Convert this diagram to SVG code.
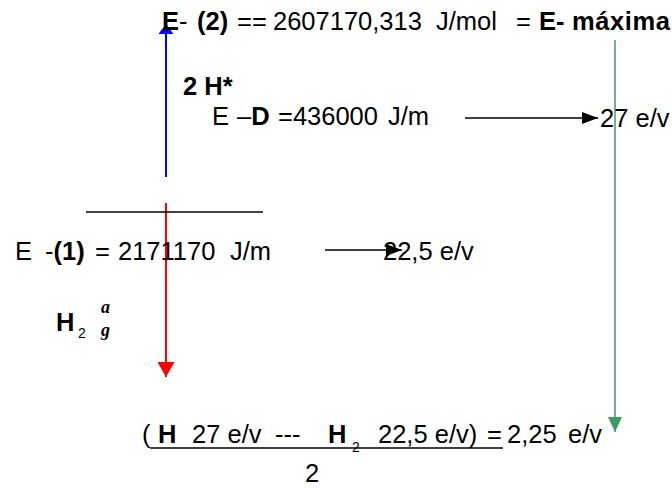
<svg xmlns="http://www.w3.org/2000/svg" width="672" height="489" viewBox="0 0 672 489">
<style>
text{font-family:"Liberation Sans",Arial,sans-serif;font-size:25.5px;fill:#000}
.b{font-weight:bold}
.sub{font-size:14px}
.gr{font-family:"Liberation Serif",serif;font-style:italic;font-weight:bold;font-size:18px}
</style>
<defs>
<marker id="mBlue" viewBox="0 0 10 15" refX="10" refY="7.5" markerWidth="10" markerHeight="15" markerUnits="userSpaceOnUse" orient="auto"><path d="M0,0 L10,7.5 L0,15 z" fill="#0000ff"/></marker>
<marker id="mRed" viewBox="0 0 15 17" refX="15" refY="8.5" markerWidth="15" markerHeight="17" markerUnits="userSpaceOnUse" orient="auto"><path d="M0,0 L15,8.5 L0,17 z" fill="#ff0000"/></marker>
<marker id="mGreen" viewBox="0 0 15 14" refX="15" refY="7" markerWidth="15" markerHeight="14" markerUnits="userSpaceOnUse" orient="auto"><path d="M0,0 L15,7 L0,14 z" fill="#3c9c62"/></marker>
<marker id="mBlack" viewBox="0 0 16 12" refX="16" refY="6" markerWidth="16" markerHeight="12" markerUnits="userSpaceOnUse" orient="auto"><path d="M0,0 L16,6 L0,12 z" fill="#000"/></marker>
</defs>
<g id="connectors">
<line x1="166" y1="177" x2="166" y2="24" stroke="#0000ff" stroke-width="2" marker-end="url(#mBlue)"/>
<line x1="166" y1="203" x2="166" y2="377" stroke="#ff0000" stroke-width="2" marker-end="url(#mRed)"/>
<line x1="615" y1="40" x2="615" y2="432" stroke="#3c9c62" stroke-width="1.5" marker-end="url(#mGreen)"/>
<line x1="465" y1="118" x2="598" y2="118" stroke="#000" stroke-width="1.5" marker-end="url(#mBlack)"/>
<line x1="325" y1="250" x2="402" y2="250" stroke="#000" stroke-width="1.5" marker-end="url(#mBlack)"/>
</g>
<g id="level-line">
<line x1="86" y1="212" x2="263" y2="212" stroke="#000" stroke-width="1.5"/>
</g>
<g id="e-max">
<text y="30"><tspan x="162" class="b">E</tspan><tspan>-</tspan><tspan x="197" class="b">(2)</tspan><tspan x="237">==</tspan><tspan x="273">2607170,313</tspan><tspan x="436">J/mol</tspan><tspan x="516">=</tspan><tspan x="539" class="b">E-</tspan><tspan x="572" class="b" textLength="98">máxima</tspan></text>
</g>
<g id="h-star">
<text x="183" y="95" class="b">2 H*</text>
<text y="125"><tspan x="212">E</tspan><tspan x="237">–</tspan><tspan class="b">D</tspan><tspan x="278">=436000</tspan><tspan x="388">J/m</tspan></text>
</g>
<g id="ev27">
<text x="600" y="127">27 e/v</text>
</g>
<g id="e1">
<text y="260"><tspan x="15">E</tspan><tspan x="45">-</tspan><tspan class="b">(1)</tspan><tspan x="95">=</tspan><tspan x="118">2171170</tspan><tspan x="230">J/m</tspan></text>
</g>
<g id="ev225">
<text x="383" y="260">22,5 e/v</text>
</g>
<g id="h2">
<text x="56" y="331" class="b">H</text>
<text x="78" y="338" class="sub">2</text>
<text x="101" y="313" class="gr">a</text>
<text x="101" y="336" class="gr">g</text>
</g>
<g id="formula">
<text y="443"><tspan x="142">(</tspan><tspan x="158" class="b">H</tspan><tspan x="192">27 e/v</tspan><tspan x="275">---</tspan><tspan x="328" class="b">H</tspan><tspan x="378">22,5 e/v)</tspan><tspan x="487">=</tspan><tspan x="507">2,25</tspan><tspan x="568">e/v</tspan></text>
<text x="352" y="452" class="sub">2</text>
<line x1="150" y1="448" x2="503" y2="448" stroke="#000" stroke-width="1.5"/>
<text x="305" y="482">2</text>
</g>
</svg>
